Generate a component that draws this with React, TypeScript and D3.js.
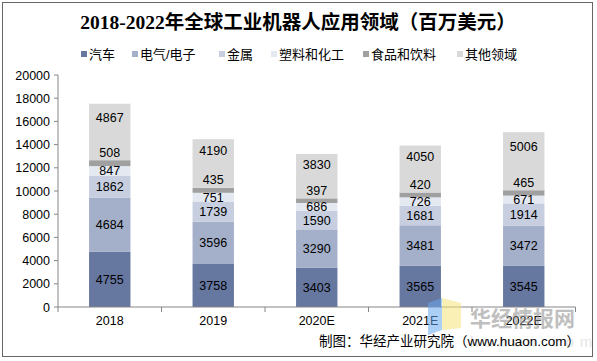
import React from 'react';
import { scaleBand, scaleLinear, stack, range } from 'd3';

// chart data
const years = ['2018', '2019', '2020E', '2021E', '2022E'];
const seriesNames = ['汽车', '电气/电子', '金属', '塑料和化工', '食品和饮料', '其他领域'];
const auto = [4755, 3758, 3403, 3565, 3545];
const electric = [4684, 3596, 3290, 3481, 3472];
const metal = [1862, 1739, 1590, 1681, 1914];
const plastic = [847, 751, 686, 726, 671];
const food = [508, 435, 397, 420, 465];
const other = [4867, 4190, 3830, 4050, 5006];
const yTicks = range(0, 20001, 2000);

const colors = ['#6677a0', '#a4afc9', '#c6cedf', '#e4e8f0', '#a0a0a0', '#d9d9d9'];
const sans = '"Liberation Sans", Arial, "Noto Sans CJK SC", sans-serif';

const W = 597;
const H = 361;
const M = { left: 58, right: 575.5, top: 75, bottom: 307 };

export default function App() {
  const rows = years.map((year, i) => ({
    year,
    s0: auto[i], s1: electric[i], s2: metal[i], s3: plastic[i], s4: food[i], s5: other[i],
  }));
  const keys = ['s0', 's1', 's2', 's3', 's4', 's5'];
  const layers = stack().keys(keys)(rows as any);

  const x = scaleBand().domain(years).range([M.left, M.right]).paddingInner(0.6).paddingOuter(0.3);
  const y = scaleLinear().domain([0, 20000]).range([M.bottom, M.top]);
  const step = x.step();

  // legend positions (x of square)
  const legendX = [81, 132, 219, 271, 363, 457];

  return (
    <div style={{ position: 'fixed', left: 0, top: 0 }}>
      <svg width={W} height={H} style={{ display: 'block', background: '#fff' }}>
        <rect x={2.5} y={2.5} width={590} height={354} fill="#fff" stroke="#666" strokeWidth={1} />

        <text x={298} y={29} textAnchor="middle" fontSize={19.5} fontWeight="bold"
          fontFamily='"Liberation Serif", "DejaVu Serif", "Noto Sans CJK SC", serif' fill="#000">
          2018-2022年全球工业机器人应用领域（百万美元）
        </text>

        {/* legend */}
        {seriesNames.map((name, i) => (
          <g key={name}>
            <rect x={legendX[i]} y={51} width={6} height={6} fill={colors[i]} />
            <text x={legendX[i] + 8} y={59} fontSize={13} fontFamily={sans} fill="#000">{name}</text>
          </g>
        ))}

        {/* y axis */}
        <line x1={M.left} x2={M.left} y1={M.top} y2={M.bottom} stroke="#868686" />
        {yTicks.map(t => (
          <g key={t}>
            <line x1={M.left - 4} x2={M.left} y1={y(t)} y2={y(t)} stroke="#868686" />
            <text x={M.left - 8} y={y(t) + 4.5} textAnchor="end" fontSize={12.5} fontFamily={sans} fill="#000">{t}</text>
          </g>
        ))}

        {/* bars */}
        {layers.map((layer, li) => (
          <g key={li}>
            {layer.map((d, i) => (
              <rect key={i} x={x(years[i])} width={x.bandwidth()} y={y(d[1])}
                height={y(d[0]) - y(d[1])} fill={colors[li]} />
            ))}
          </g>
        ))}

        {/* labels */}
        {layers.map((layer, li) => (
          <g key={'l' + li}>
            {layer.map((d, i) => {
              const top = y(d[1]);
              const bot = y(d[0]);
              let cy = (top + bot) / 2;
              if (li === 4) cy = top - 8;
              if (li === 5) cy = top + (bot - top) * 0.24;
              return (
                <text key={i} x={(x(years[i]) as number) + x.bandwidth() / 2} y={cy + 4.5}
                  textAnchor="middle" fontSize={12.5} fontFamily={sans} fill="#000">
                  {d[1] - d[0]}
                </text>
              );
            })}
          </g>
        ))}

        {/* x axis */}
        <line x1={M.left} x2={M.right} y1={M.bottom} y2={M.bottom} stroke="#868686" />
        {range(0, years.length + 1).map(k => (
          <line key={k} x1={M.left + k * step} x2={M.left + k * step} y1={M.bottom} y2={M.bottom + 5} stroke="#868686" />
        ))}
        {years.map(yr => (
          <text key={yr} x={(x(yr) as number) + x.bandwidth() / 2} y={325} textAnchor="middle"
            fontSize={12.5} fontFamily={sans} fill="#000">{yr}</text>
        ))}

        {/* watermark */}
        <g opacity={0.55}>
          <polygon points="428,303 442,298 442,330 428,335" fill="#6aa8f0" />
          <polygon points="442,298 461,303 461,328 442,330" fill="#f7e27a" />
          <text x={470} y={326} fontSize={21} fontWeight="bold" fontFamily='"Noto Sans CJK SC", sans-serif' fill="#8c8c8c">华经情报网</text>
          <text x={470} y={347} fontSize={15} letterSpacing={6} fontFamily={sans} fill="#d0d0d0">huaon.com</text>
        </g>

        <text x={580} y={346} textAnchor="end" fontSize={13.5} fontFamily={sans} fill="#000">
          制图：华经产业研究院（www.huaon.com）
        </text>
      </svg>
    </div>
  );
}
